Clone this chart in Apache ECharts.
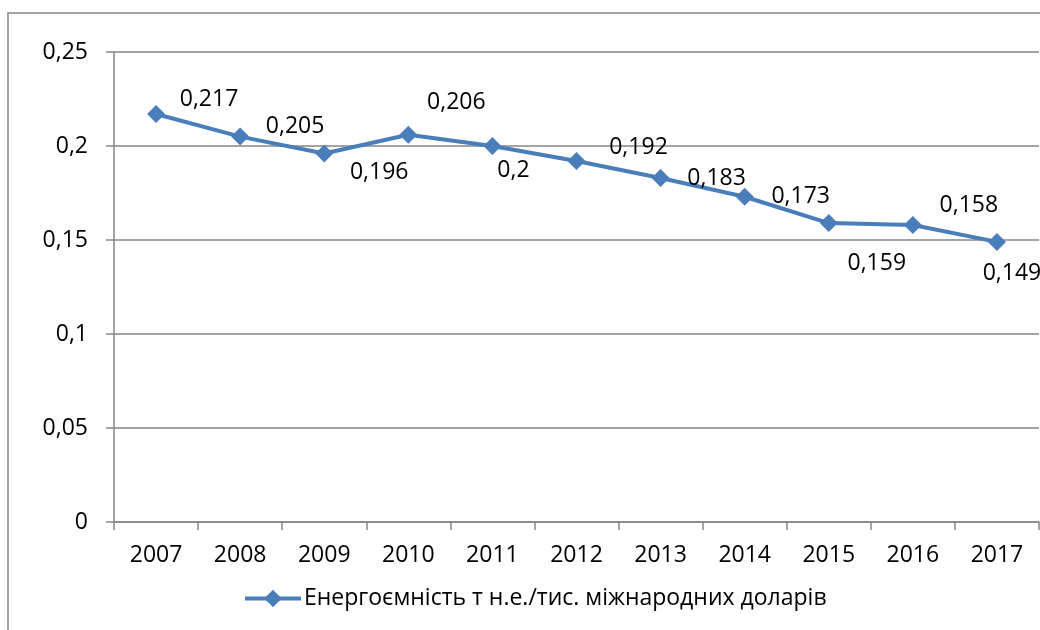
<!DOCTYPE html>
<html>
<head>
<meta charset="utf-8">
<script src="https://cdn.jsdelivr.net/npm/echarts@6/dist/echarts.min.js"></script>
<style>
  html, body { margin: 0; padding: 0; background: #fff; }
  #chart { width: 1040px; height: 630px; }
</style>
</head>
<body>
<div id="chart"></div>
<script>
// дані
var years = ['2007', '2008', '2009', '2010', '2011', '2012', '2013', '2014', '2015', '2016', '2017'];
var energyIntensity = [0.217, 0.205, 0.196, 0.206, 0.2, 0.192, 0.183, 0.173, 0.159, 0.158, 0.149];
var yTicks = [0, 0.05, 0.1, 0.15, 0.2, 0.25];
var seriesName = 'Енергоємність т н.е./тис. міжнародних доларів';

// зсуви підписів відносно точок (як у оригіналі)
var labelOffsets = [[53, -15], [55, -10], [55, 19], [48, -32], [21, 24], [62, -14],
                    [56, 0], [56, 0], [48, 40], [56, -20], [15, 32]];

var FONT = '"Open Sans", sans-serif';
var GRAY = '#868686';
var BLUE = '#4A7EBB';

function fmt(v) {
  return String(v).replace('.', ',');
}

var chart = echarts.init(document.getElementById('chart'));

var points = energyIntensity.map(function (v, i) {
  return {
    value: v,
    label: { offset: labelOffsets[i] }
  };
});

chart.setOption({
  animation: false,
  textStyle: { fontFamily: FONT },
  graphic: [{
    type: 'rect',
    shape: { x: 8, y: 13, width: 1060, height: 660 },
    style: { fill: 'none', stroke: GRAY, lineWidth: 1.5 },
    silent: true
  }],
  grid: { left: 114, right: 1, top: 52, bottom: 108 },
  legend: {
    top: 582,
    left: 238,
    itemWidth: 56,
    itemHeight: 22,
    itemGap: 4,
    lineStyle: { width: 4 },
    textStyle: { fontSize: 23, color: '#000', fontFamily: FONT, padding: [0, 0, 0, -2] },
    data: [seriesName]
  },
  xAxis: {
    type: 'category',
    data: years,
    boundaryGap: true,
    axisLine: { lineStyle: { color: GRAY, width: 1.5 } },
    axisTick: { show: true, length: 8, inside: false, lineStyle: { color: GRAY, width: 1.5 } },
    axisLabel: { fontSize: 23, color: '#000', margin: 22 }
  },
  yAxis: {
    type: 'value',
    min: 0,
    max: 0.25,
    interval: 0.05,
    axisLine: { show: true, lineStyle: { color: GRAY, width: 1.5 } },
    axisTick: { show: true, length: 8, lineStyle: { color: GRAY, width: 1.5 } },
    splitLine: { show: true, lineStyle: { color: GRAY, width: 1.5 } },
    axisLabel: {
      fontSize: 23,
      color: '#000',
      margin: 26,
      formatter: function (v) {
        var t = yTicks.filter(function (x) { return Math.abs(x - v) < 1e-9; });
        return t.length ? fmt(+t[0].toFixed(2)) : '';
      }
    }
  },
  series: [{
    name: seriesName,
    type: 'line',
    data: points,
    symbol: 'diamond',
    symbolSize: 18,
    itemStyle: { color: BLUE },
    lineStyle: { color: BLUE, width: 4 },
    label: {
      show: true,
      position: 'inside',
      align: 'center',
      verticalAlign: 'middle',
      fontSize: 23,
      color: '#000',
      fontFamily: FONT,
      formatter: function (p) { return fmt(p.value); }
    }
  }]
});
</script>
</body>
</html>
